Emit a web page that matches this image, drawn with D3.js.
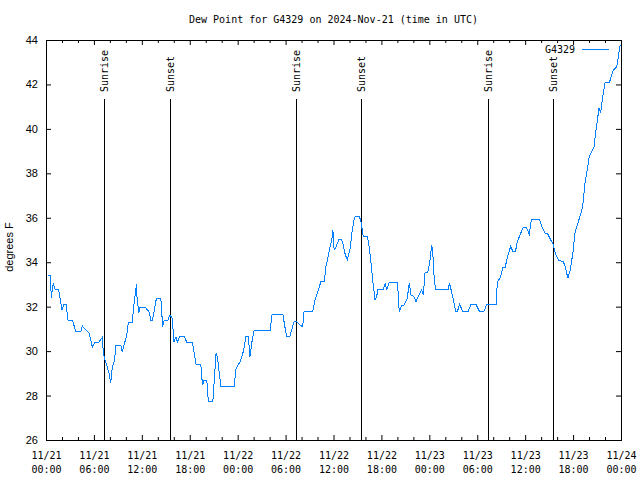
<!DOCTYPE html>
<html>
<head>
<meta charset="utf-8">
<script src="https://cdn.jsdelivr.net/npm/d3@7"></script>
<style>
  html, body { margin: 0; padding: 0; background: #fff; }
  svg { display: block; }
</style>
</head>
<body>
<svg id="chart" width="640" height="480"></svg>
<script>
// ---- Data (hours since 2024-11-21 00:00 UTC, dew point in °F) ----
const hoursSinceStart = [
  0.24, 0.58, 0.65, 0.91, 1.12, 1.58, 2.0, 2.25, 2.5, 2.75, 3.29, 3.76, 4.35, 4.55, 5.39, 5.81, 6.11, 6.65, 7.06, 7.17,
  7.38, 7.6, 7.89, 8.1, 8.3, 8.6, 8.73, 9.36, 9.56, 9.77, 10.02, 10.18, 10.31, 10.81, 10.94, 11.11, 11.24, 11.32, 11.4, 11.62,
  11.74, 12.28, 12.5, 12.91, 13.13, 13.33, 13.63, 13.83, 14.29, 14.46, 14.58, 14.8, 15.27, 15.52, 15.81, 16.02, 16.27, 16.44, 16.78, 17.28,
  17.62, 18.32, 18.5, 18.79, 19.38, 19.54, 19.63, 19.79, 20.13, 20.33, 20.89, 21.05, 21.3, 21.46, 21.8, 21.89, 23.57, 23.78, 24.29, 24.7,
  25.04, 25.33, 25.54, 25.76, 26.05, 28.06, 28.31, 29.65, 29.98, 30.14, 30.55, 31.05, 31.39, 31.81, 32.14, 32.31, 33.4, 33.69, 34.11, 34.41,
  34.86, 35.04, 35.24, 35.58, 35.79, 35.92, 36.08, 36.33, 36.67, 36.92, 37.14, 37.43, 37.72, 38.06, 38.35, 38.56, 38.73, 39.23, 39.44, 39.73,
  40.23, 40.41, 40.66, 40.91, 41.2, 41.41, 41.54, 42.24, 42.46, 42.67, 43.0, 43.98, 44.11, 44.23, 44.54, 44.83, 45.24, 45.49, 45.7, 46.08,
  46.33, 46.62, 47.05, 47.25, 47.46, 47.8, 48.09, 48.3, 48.43, 48.59, 48.76, 50.39, 50.52, 50.73, 51.02, 51.32, 51.52, 51.77, 52.17, 52.87,
  53.21, 53.84, 54.26, 54.85, 55.19, 56.36, 56.52, 56.86, 57.2, 57.49, 57.78, 58.2, 58.45, 58.78, 59.01, 59.44, 59.77, 60.11, 60.52, 60.77,
  61.78, 62.08, 62.49, 62.78, 63.21, 63.54, 63.75, 64.17, 64.79, 65.01, 65.35, 65.64, 65.97, 66.23, 66.52, 66.86, 67.2, 67.49, 68.03, 68.62,
  68.87, 69.25, 69.46, 69.71, 70.0, 70.54, 71.04, 71.47, 71.67, 71.89
];
const dewPointF = [
  33.4, 33.4, 32.4, 33.06, 32.79, 32.79, 31.85, 32.12, 32.12, 31.4, 31.4, 30.87, 30.87, 31.13, 30.81, 30.18, 30.41, 30.41, 30.63, 29.96,
  29.6, 29.37, 29.01, 28.56, 29.28, 29.6, 30.27, 30.27, 29.96, 30.27, 30.59, 30.86, 31.31, 31.31, 31.85, 32.39, 32.75, 33.02, 32.39, 31.71,
  31.98, 31.98, 31.94, 31.76, 31.4, 31.4, 31.98, 32.39, 32.39, 32.16, 31.08, 31.4, 31.4, 31.62, 31.49, 30.41, 30.63, 30.41, 30.68, 30.68,
  30.41, 30.41, 30.05, 29.42, 29.42, 28.7, 28.47, 28.7, 28.7, 27.72, 27.72, 28.56, 29.91, 29.75, 28.7, 28.43, 28.43, 29.19, 29.52, 29.97,
  30.65, 30.65, 29.75, 30.36, 30.92, 30.92, 31.67, 31.67, 30.95, 30.68, 30.68, 31.32, 31.32, 31.17, 31.1, 31.77, 31.77, 32.3, 32.75, 33.12,
  33.12, 33.8, 34.1, 34.7, 35.0, 35.45, 34.55, 34.7, 35.03, 35.03, 34.92, 34.4, 34.1, 34.55, 35.45, 35.9, 36.08, 36.08, 35.82, 35.15,
  35.15, 34.85, 34.1, 33.2, 32.3, 32.45, 32.78, 32.78, 33.05, 32.78, 33.1, 33.1, 32.6, 31.77, 32.07, 32.07, 32.38, 33.08, 32.52, 32.45,
  32.22, 32.48, 32.75, 32.52, 33.53, 33.53, 34.1, 34.77, 34.41, 33.42, 32.78, 32.78, 33.08, 32.75, 32.3, 31.77, 31.77, 32.12, 31.8, 31.8,
  32.1, 32.1, 31.8, 31.8, 32.1, 32.1, 33.12, 33.28, 33.75, 33.75, 34.25, 34.73, 34.47, 34.47, 34.92, 35.3, 35.57, 35.57, 35.27, 35.93,
  35.93, 35.6, 35.3, 35.3, 35.0, 34.77, 34.43, 34.1, 34.02, 33.8, 33.28, 33.65, 34.4, 35.3, 35.67, 36.05, 36.5, 37.55, 38.75, 39.2,
  39.95, 40.93, 40.73, 41.45, 42.08, 42.08, 42.65, 42.8, 43.25, 43.77
];
const sunEventHours = [7.30, 15.56, 31.34, 39.48, 55.38, 63.52];
const sunEventLabels = ["Sunrise", "Sunset", "Sunrise", "Sunset", "Sunrise", "Sunset"];
const yTickValues = [26, 28, 30, 32, 34, 36, 38, 40, 42, 44];
const majorTickHours = [0, 6, 12, 18, 24, 30, 36, 42, 48, 54, 60, 66, 72];
const seriesName = "G4329";
const titleText = "Dew Point for G4329 on 2024-Nov-21 (time in UTC)";
const yAxisTitle = "degrees F";

// ---- Layout ----
const startMs = Date.UTC(2024, 10, 21, 0, 0);
const HOUR = 3600 * 1000;
const toDate = h => new Date(startMs + h * HOUR);
const pLeft = 46, pRight = 621, pTop = 40, pBottom = 440;
const mono = "'DejaVu Sans Mono', 'Liberation Mono', monospace";
const sans = "'Liberation Sans', Arial, sans-serif";
const lineColor = "#0080ff";

const svg = d3.select("#chart");
const x = d3.scaleUtc().domain([toDate(0), toDate(72)]).range([pLeft, pRight]);
const y = d3.scaleLinear().domain([26, 44]).range([pBottom, pTop]);

const data = hoursSinceStart.map((h, i) => ({ t: toDate(h), v: dewPointF[i] }));

// Title
svg.append("text")
  .attr("x", (pLeft + pRight) / 2).attr("y", 23)
  .attr("text-anchor", "middle")
  .style("font-family", mono).style("font-size", "10px")
  .text(titleText);

// Y axis title
svg.append("text")
  .attr("transform", "translate(13,247) rotate(-90)")
  .attr("text-anchor", "middle")
  .style("font-family", sans).style("font-size", "11px")
  .text(yAxisTitle);

const majorDates = majorTickHours.map(toDate);
const minorDates = d3.range(0, 73, 2).filter(h => h % 6 !== 0).map(toDate);

// Bottom axis (major)
const gxB = svg.append("g").attr("transform", `translate(0,${pBottom})`)
  .call(d3.axisBottom(x).tickValues(majorDates).tickSize(-5).tickSizeOuter(0).tickFormat(""));
gxB.select(".domain").remove();
const fmtDay = d3.utcFormat("%m/%d"), fmtTime = d3.utcFormat("%H:%M");
gxB.selectAll(".tick text").each(function (d) {
  const t = d3.select(this);
  t.attr("y", null).attr("dy", null).text(null)
    .style("font-family", mono).style("font-size", "10px").attr("fill", "#000");
  t.append("tspan").attr("x", 0).attr("y", 19).text(fmtDay(d));
  t.append("tspan").attr("x", 0).attr("y", 33).text(fmtTime(d));
});
// Bottom minor
svg.append("g").attr("transform", `translate(0,${pBottom})`)
  .call(d3.axisBottom(x).tickValues(minorDates).tickSize(-3).tickSizeOuter(0).tickFormat(""))
  .select(".domain").remove();
// Top axis (mirror)
svg.append("g").attr("transform", `translate(0,${pTop})`)
  .call(d3.axisTop(x).tickValues(majorDates).tickSize(-5).tickSizeOuter(0).tickFormat(""))
  .select(".domain").remove();
svg.append("g").attr("transform", `translate(0,${pTop})`)
  .call(d3.axisTop(x).tickValues(minorDates).tickSize(-3).tickSizeOuter(0).tickFormat(""))
  .select(".domain").remove();

// Left axis
const gyL = svg.append("g").attr("transform", `translate(${pLeft},0)`)
  .call(d3.axisLeft(y).tickValues(yTickValues).tickSize(-5).tickSizeOuter(0).tickPadding(8).tickFormat(d3.format("d")));
gyL.select(".domain").remove();
gyL.selectAll(".tick text").style("font-family", sans).style("font-size", "11px").attr("fill", "#000");
// Right axis
svg.append("g").attr("transform", `translate(${pRight},0)`)
  .call(d3.axisRight(y).tickValues(yTickValues).tickSize(-5).tickSizeOuter(0).tickFormat(""))
  .select(".domain").remove();

// Border
svg.append("rect")
  .attr("x", pLeft + 0.5).attr("y", pTop + 0.5)
  .attr("width", pRight - pLeft).attr("height", pBottom - pTop)
  .attr("fill", "none").attr("stroke", "#000").attr("stroke-width", 1);

// Sunrise / sunset lines
const sun = svg.append("g");
sunEventHours.forEach((h, i) => {
  const sx = Math.round(x(toDate(h))) + 0.5;
  sun.append("line")
    .attr("x1", sx).attr("x2", sx).attr("y1", 99).attr("y2", pBottom)
    .attr("stroke", "#000").attr("stroke-width", 1);
  sun.append("text")
    .attr("transform", `translate(${sx},92) rotate(-90)`)
    .attr("dy", "0.35em")
    .attr("text-anchor", "start")
    .style("font-family", mono).style("font-size", "10px")
    .text(sunEventLabels[i]);
});

// Data line
svg.append("path")
  .datum(data)
  .attr("fill", "none")
  .attr("stroke", lineColor)
  .attr("stroke-width", 1)
  .attr("shape-rendering", "crispEdges")
  .attr("d", d3.line().x(d => x(d.t)).y(d => y(d.v)));

// Legend
svg.append("text")
  .attr("x", 575).attr("y", 53)
  .attr("text-anchor", "end")
  .style("font-family", mono).style("font-size", "10px")
  .text(seriesName);
svg.append("line")
  .attr("x1", 582).attr("x2", 609).attr("y1", 49.5).attr("y2", 49.5)
  .attr("stroke", lineColor).attr("stroke-width", 1);
</script>
</body>
</html>
